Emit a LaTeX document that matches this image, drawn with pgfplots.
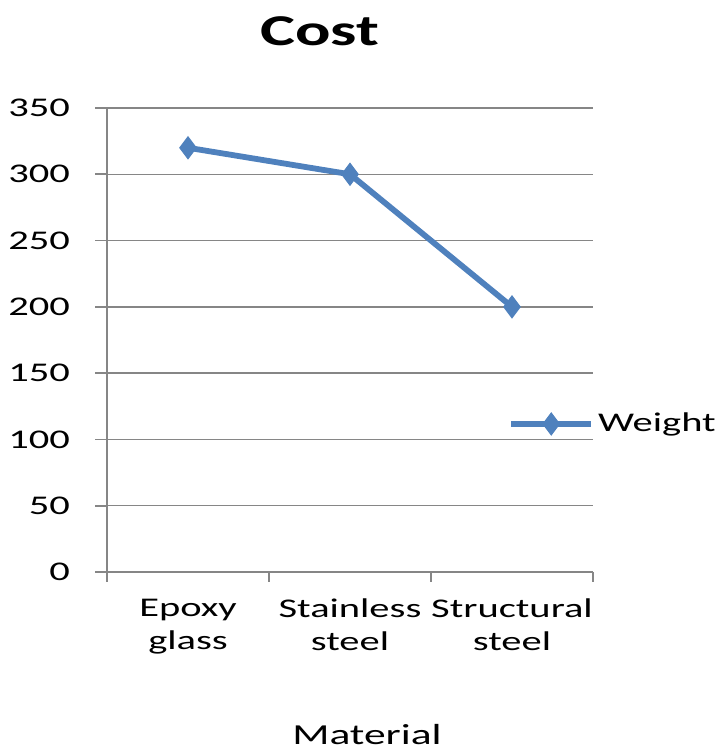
\documentclass[border=0pt]{standalone}
\usepackage{fontspec}
\setmainfont[FakeStretch=1.5]{Carlito}
\usepackage{pgfplots}
\pgfplotsset{compat=1.18}
\definecolor{xlblue}{HTML}{4F81BD}
\definecolor{gridgray}{HTML}{868686}
\begin{document}
\begin{tikzpicture}
\path[use as bounding box] (0,0) rectangle (358pt,374.5pt);
\begin{axis}[
  at={(53.5pt,88.5pt)}, anchor=south west,
  scale only axis, width=243pt, height=232pt,
  xmin=-0.5, xmax=2.5, ymin=0, ymax=350,
  axis x line*=bottom, axis y line*=left,
  axis line style={gridgray, line width=0.9pt},
  xtick={0,1,2},
  xticklabels={Epoxy\\glass, Stainless\\steel, Structural\\steel},
  xticklabel style={align=center, font=\fontsize{13.5}{16.5}\selectfont, text=black, yshift=-4pt},
  minor xtick={-0.5,0.5,1.5,2.5},
  major x tick style={draw=none},
  minor tick length=5pt,
  ytick={0,50,...,350},
  yticklabel style={font=\fontsize{13.5}{16}\selectfont, text=black, xshift=-9pt},
  /pgf/number format/assume math mode=true,
  tick align=outside, major tick length=6pt,
  tick style={gridgray, line width=0.9pt},
  ymajorgrids, grid style={gridgray, line width=0.7pt},
  legend style={at={(0.825,0.319)}, anchor=west, draw=none, fill=none, font=\fontsize{13.5}{16}\selectfont, inner sep=0pt},
  legend cell align=left,
  legend image code/.code={\draw[mark repeat=2,mark phase=2,#1] plot coordinates {(0pt,0pt) (20pt,0pt) (40pt,0pt)};},
  clip=false,
]
\addplot[xlblue, line width=2.9pt, mark=diamond*, mark size=5.5pt, mark options={fill=xlblue, draw=xlblue, line width=0.5pt}]
  coordinates {(0,320) (1,300) (2,200)};
\addlegendentry{Weight}
\node[font=\fontsize{22}{26}\selectfont\bfseries, anchor=center] at (rel axis cs:0.438,1.165) {Cost};
\node[font=\fontsize{14.5}{17}\selectfont, anchor=center] at (rel axis cs:0.535,-0.35) {Material};
\end{axis}
\end{tikzpicture}
\end{document}
